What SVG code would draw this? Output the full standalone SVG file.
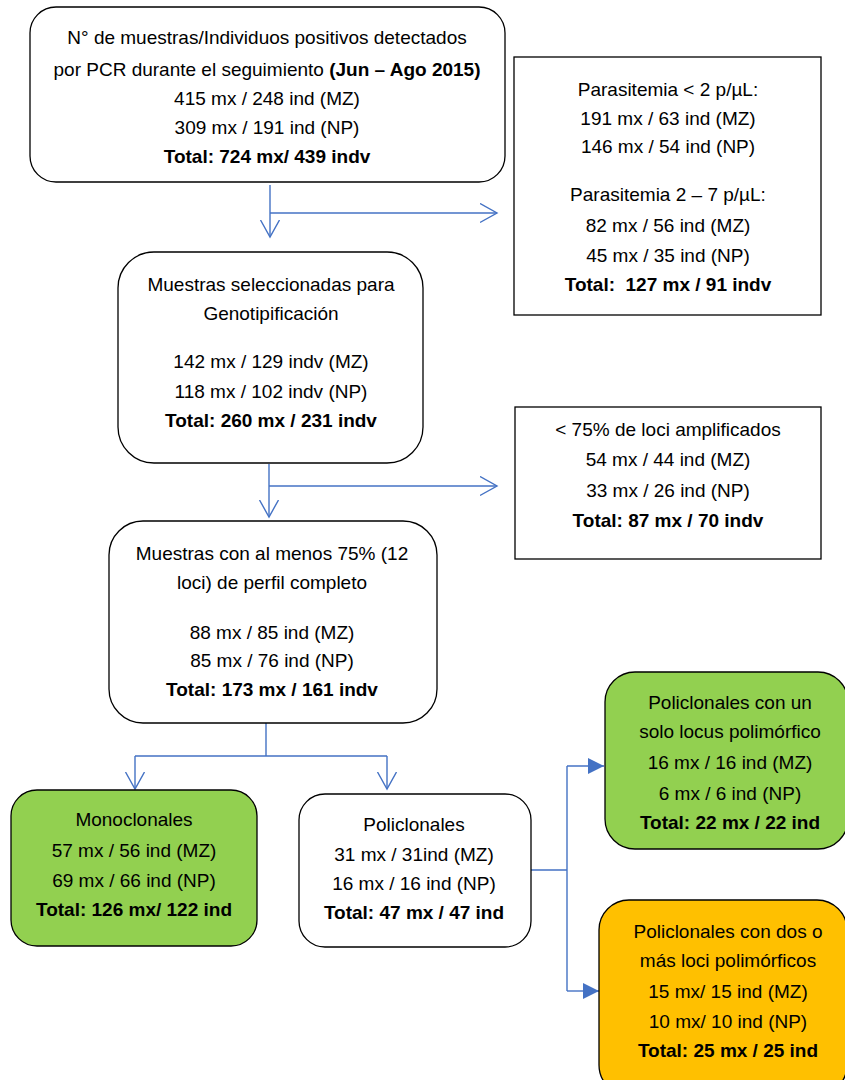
<svg xmlns="http://www.w3.org/2000/svg" width="845" height="1080" viewBox="0 0 845 1080">
<defs>
<style>
text{font-family:"Liberation Sans",Arial,sans-serif;font-size:19px;fill:#000;text-anchor:middle}
.b{font-weight:bold}
.rbox{fill:#fff;stroke:#000;stroke-width:1.3}
.sbox{fill:#fff;stroke:#000;stroke-width:1.3}
.green{fill:#92D050;stroke:#000;stroke-width:1.3}
.orange{fill:#FFC000;stroke:#000;stroke-width:1.3}
.con{fill:none;stroke:#4472C4;stroke-width:1.4}
</style>
<marker id="open" markerUnits="userSpaceOnUse" markerWidth="20" markerHeight="22" refX="17" refY="10" orient="auto">
<path d="M0,0.5 L17,10 L0,19.5" fill="none" stroke="#4472C4" stroke-width="1.4"/>
</marker>
<marker id="fill" markerUnits="userSpaceOnUse" markerWidth="18" markerHeight="18" refX="16" refY="8" orient="auto">
<path d="M0,0 L16,8 L0,16 Z" fill="#4472C4"/>
</marker>
</defs>

<g id="connectors">
<path class="con" d="M270,185 V237" marker-end="url(#open)"/>
<path class="con" d="M270,213 H497" marker-end="url(#open)"/>
<path class="con" d="M269,464 V517" marker-end="url(#open)"/>
<path class="con" d="M269,486 H497" marker-end="url(#open)"/>
<path class="con" d="M266,723 V756 M135,756 H387"/>
<path class="con" d="M135,756 V789" marker-end="url(#open)"/>
<path class="con" d="M387,756 V789" marker-end="url(#open)"/>
<path class="con" d="M531,870 H567 M567,766 V991"/>
<path class="con" d="M567,766 H604" marker-end="url(#fill)"/>
<path class="con" d="M567,991 H599" marker-end="url(#fill)"/>
</g>

<g id="n1">
<rect class="rbox" x="30" y="7" width="475" height="175" rx="26"/>
<text x="267" y="44">N° de muestras/Individuos positivos detectados</text>
<text x="267" y="76">por PCR durante el seguimiento <tspan class="b">(Jun – Ago 2015)</tspan></text>
<text x="267" y="105">415 mx / 248 ind (MZ)</text>
<text x="267" y="134">309 mx / 191 ind (NP)</text>
<text x="267" y="163" class="b">Total: 724 mx/ 439 indv</text>
</g>

<g id="n2">
<rect class="sbox" x="514" y="57" width="307" height="258"/>
<text x="668" y="96">Parasitemia &lt; 2 p/µL:</text>
<text x="668" y="125">191 mx / 63 ind (MZ)</text>
<text x="668" y="153">146 mx / 54 ind (NP)</text>
<text x="668" y="201">Parasitemia 2 – 7 p/µL:</text>
<text x="668" y="232">82 mx / 56 ind (MZ)</text>
<text x="668" y="262">45 mx / 35 ind (NP)</text>
<text x="668" y="291" class="b" xml:space="preserve">Total:  127 mx / 91 indv</text>
</g>

<g id="n3">
<rect class="rbox" x="118" y="252" width="305" height="211" rx="36"/>
<text x="271" y="291">Muestras seleccionadas para</text>
<text x="271" y="320">Genotipificación</text>
<text x="271" y="368">142 mx / 129 indv (MZ)</text>
<text x="271" y="398">118 mx / 102 indv (NP)</text>
<text x="271" y="427" class="b">Total: 260 mx / 231 indv</text>
</g>

<g id="n4">
<rect class="sbox" x="515" y="407" width="306" height="152"/>
<text x="668" y="436">&lt; 75% de loci amplificados</text>
<text x="668" y="466">54 mx / 44 ind (MZ)</text>
<text x="668" y="497">33 mx / 26 ind (NP)</text>
<text x="668" y="527" class="b">Total: 87 mx / 70 indv</text>
</g>

<g id="n5">
<rect class="rbox" x="109" y="521" width="328" height="202" rx="34"/>
<text x="272" y="560">Muestras con al menos 75% (12</text>
<text x="272" y="589">loci) de perfil completo</text>
<text x="272" y="639">88 mx / 85 ind (MZ)</text>
<text x="272" y="667">85 mx / 76 ind (NP)</text>
<text x="272" y="696" class="b">Total: 173 mx / 161 indv</text>
</g>

<g id="n6">
<rect class="green" x="11" y="790" width="246" height="156" rx="26"/>
<text x="134" y="826">Monoclonales</text>
<text x="134" y="857">57 mx / 56 ind (MZ)</text>
<text x="134" y="887">69 mx / 66 ind (NP)</text>
<text x="134" y="916" class="b">Total: 126 mx/ 122 ind</text>
</g>

<g id="n7">
<rect class="rbox" x="299" y="794" width="232" height="153" rx="26"/>
<text x="414" y="831">Policlonales</text>
<text x="414" y="861">31 mx / 31ind (MZ)</text>
<text x="414" y="890">16 mx / 16 ind (NP)</text>
<text x="414" y="919" class="b">Total: 47 mx / 47 ind</text>
</g>

<g id="n8">
<rect class="green" x="605" y="672" width="243" height="177" rx="30"/>
<text x="730" y="709">Policlonales con un</text>
<text x="730" y="738">solo locus polimórfico</text>
<text x="730" y="769">16 mx / 16 ind (MZ)</text>
<text x="730" y="800">6 mx / 6 ind (NP)</text>
<text x="730" y="829" class="b">Total: 22 mx / 22 ind</text>
</g>

<g id="n9">
<rect class="orange" x="599" y="900" width="248" height="195" rx="30"/>
<text x="728" y="938">Policlonales con dos o</text>
<text x="728" y="967">más loci polimórficos</text>
<text x="728" y="998">15 mx/ 15 ind (MZ)</text>
<text x="728" y="1028">10 mx/ 10 ind (NP)</text>
<text x="728" y="1057" class="b">Total: 25 mx / 25 ind</text>
</g>
</svg>
